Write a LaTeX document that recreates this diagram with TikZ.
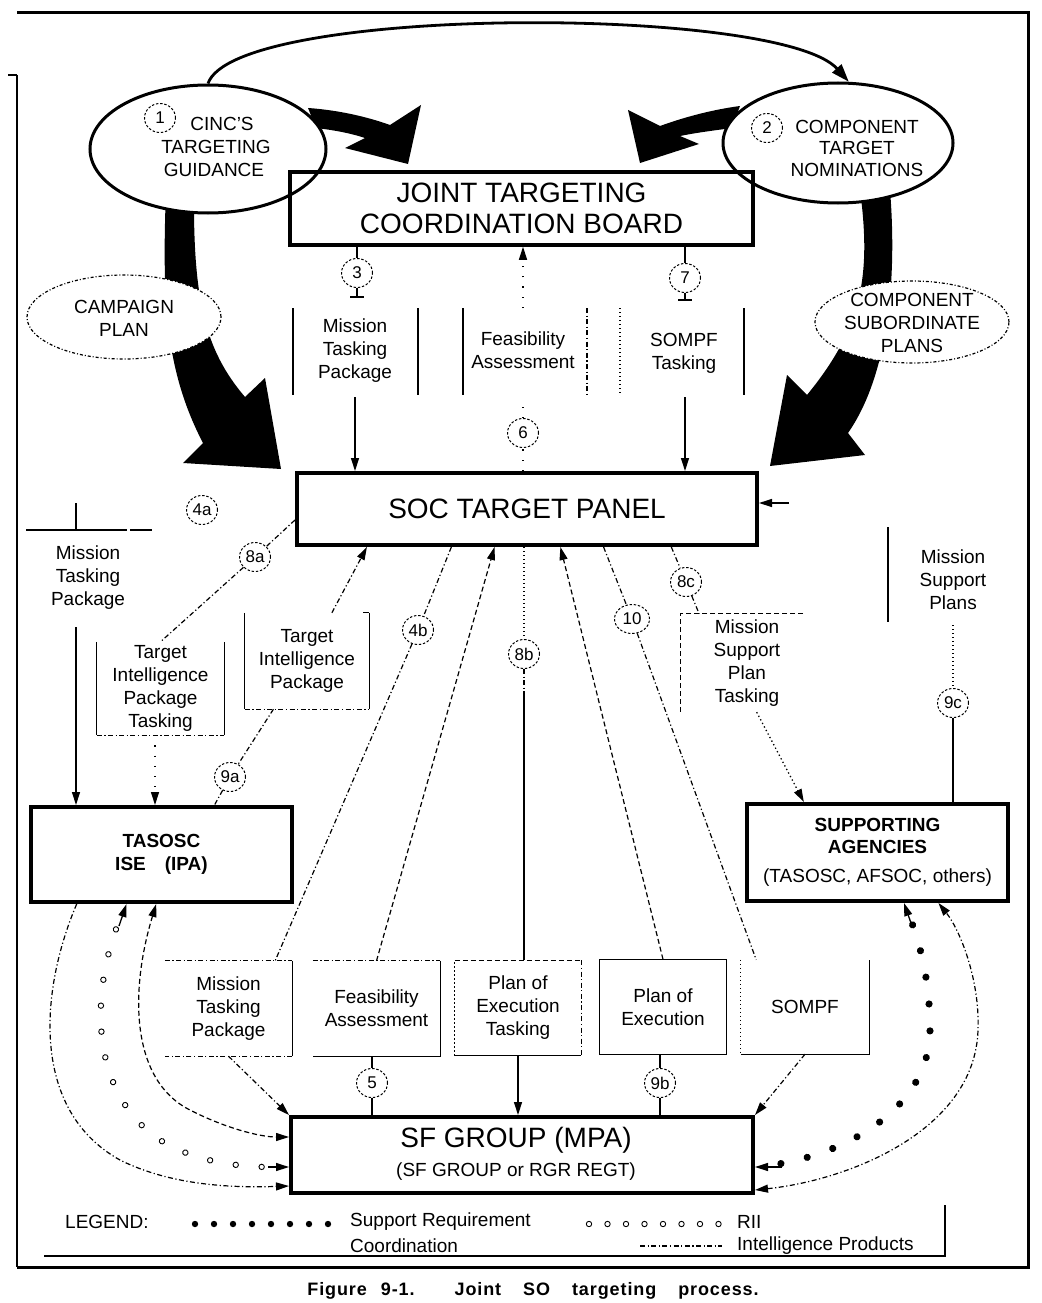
\documentclass[tikz,border=0pt]{standalone}
\usepackage{fontspec}
\setmainfont{Liberation Sans}
\usetikzlibrary{arrows.meta,shapes.geometric,calc,decorations.markings}
\begin{document}
\begin{tikzpicture}[x=1pt,y=-1pt,
  >={Triangle[length=13pt,width=8pt]},
  lbl/.style={font=\fontsize{19}{23}\selectfont, align=center, inner sep=0pt},
  numc/.style={ellipse, draw, dash pattern=on 2.4pt off 1.8pt, line width=1pt, minimum width=31pt, minimum height=29pt, inner sep=0pt, fill=white, font=\fontsize{17}{17}\selectfont},
  bigbox/.style={draw, line width=3.5pt, inner sep=0pt, align=center},
  ln/.style={line width=1.3pt},
  intel/.style={line width=1.2pt, dash pattern=on 5pt off 2.5pt on 1.2pt off 2.5pt},
  dotl/.style={line width=1.3pt, dash pattern=on 1.3pt off 2.7pt},
  dashl/.style={line width=1.2pt, dash pattern=on 5pt off 3pt},
  faint/.style={line width=1.2pt, dash pattern=on 1.2pt off 9pt},
  plainbox/.style={inner sep=0pt, align=center, font=\fontsize{19}{23}\selectfont},
  legtxt/.style={font=\fontsize{19}{19}\selectfont, anchor=west, inner sep=0pt}
]
\useasboundingbox (0,0) rectangle (1041,1303);

% frame
\draw[line width=3pt] (17,13) -- (1028,13) -- (1028,1267) -- (17,1267);
\draw[line width=2.5pt] (17,75) -- (17,1267);
\draw[line width=2pt] (8,75) -- (17,75);

% big black arrows
\fill (308,108) .. controls (338,110) and (368,117) .. (390,125) -- (421,105) -- (408,164) -- (345,148) -- (365,138) .. controls (350,133) and (333,130) .. (316,128) -- cycle;
\fill (740,106) .. controls (710,110) and (682,118) .. (660,126) -- (628,110) -- (640,163) -- (699,144) -- (680,136) .. controls (700,132) and (718,130) .. (732,128) -- cycle;
\fill (166,190) .. controls (162,300) and (165,370) .. (203,443) -- (183,463) -- (281,469) -- (265,378) -- (245,397) .. controls (205,350) and (193,300) .. (194,190) -- cycle;
\fill (860,190) .. controls (872,280) and (860,330) .. (807,395) -- (787,375) -- (770,466) -- (865,455) -- (848,433) .. controls (885,380) and (898,290) .. (890,190) -- cycle;

% ellipses
\node[ellipse, draw, line width=3pt, fill=white, minimum width=236pt, minimum height=128pt] (cinc) at (208,149) {};
\node[ellipse, draw, line width=3pt, fill=white, minimum width=230pt, minimum height=120pt] (comp) at (838,143) {};
\node[ellipse, draw, line width=1.2pt, dash pattern=on 3pt off 2pt on 1pt off 2pt, fill=white, minimum width=194pt, minimum height=84pt] (camp) at (124,317) {};
\node[ellipse, draw, line width=1.2pt, dash pattern=on 3pt off 2pt on 1pt off 2pt, fill=white, minimum width=194pt, minimum height=82pt] (csp) at (912,322) {};
\node[lbl] (campt) at (124,318) {CAMPAIGN\\PLAN};
\node[lbl] (cspt) at (912,323) {COMPONENT\\SUBORDINATE\\PLANS};

\node[numc] (n1) at (160,118) {1};
\node[lbl] (cinct1) at (222,124) {CINC'S};
\node[lbl] (cinct2) at (216,147) {TARGETING};
\node[lbl] (cinct3) at (214,170) {GUIDANCE};
\node[numc] (n2) at (767,128) {2};
\node[lbl] (compt1) at (857,127) {COMPONENT};
\node[lbl] (compt2) at (857,148) {TARGET};
\node[lbl] (compt3) at (857,170) {NOMINATIONS};

\draw[line width=2.8pt, -{Triangle[length=18pt,width=12pt]}] (cinc.north) .. controls (235,5) and (780,5) .. (comp.80);

% main boxes
\node[bigbox, line width=3.5pt, minimum width=463pt, minimum height=73pt, font=\fontsize{28}{31}\selectfont] (jtcb) at (521.5,208.5) {JOINT TARGETING\\COORDINATION BOARD};
\node[bigbox, line width=4pt, minimum width=460pt, minimum height=72pt, font=\fontsize{28}{28}\selectfont] (soc) at (527,509) {SOC TARGET PANEL};
\node[bigbox, line width=4pt, minimum width=261pt, minimum height=95pt, font=\bfseries\fontsize{19}{23}\selectfont] (tasosc) at (161.5,854.5) {TASOSC\\ISE\quad(IPA)};
\node[bigbox, line width=4pt, minimum width=261pt, minimum height=97pt, font=\fontsize{19}{22}\selectfont] (sa) at (877.5,852.5) {\textbf{SUPPORTING}\\\textbf{AGENCIES}\\[7pt](TASOSC, AFSOC, others)};
\node[bigbox, line width=4pt, minimum width=462pt, minimum height=76pt] (sf) at (522,1155) {};
\node[font=\fontsize{28}{28}\selectfont, inner sep=0pt] (sft1) at (516,1140) {SF GROUP (MPA)};
\node[font=\fontsize{19}{19}\selectfont, inner sep=0pt] (sft2) at (516,1172) {(SF GROUP or RGR REGT)};

% upper columns
\draw[ln] (293,308) -- (293,395);
\draw[ln] (418,308) -- (418,395);
\draw[ln] (463,308) -- (463,395);
\draw[intel] (587,308) -- (587,395);
\draw[dotl] (620,308) -- (620,395);
\draw[ln] (744,308) -- (744,395);
\node[lbl] (mtp1) at (355,351) {Mission\\Tasking\\Package};
\node[lbl] (fa1) at (523,350) {Feasibility\\Assessment};
\node[lbl] (st1) at (684,353) {SOMPF\\Tasking};

\node[numc] (n3) at (357,273) {3};
\node[numc] (n7) at (685,278) {7};
\node[numc] (n6) at (523,433) {6};
\draw[ln] (jtcb.south -| n3) -- (n3);
\draw[ln] (n3.south) -- (357,297);
\draw[ln] (350,297) -- (364,297);
\draw[ln,->] (mtp1.south |- 0,397) -- (mtp1.south |- soc.north);
\draw[ln] (jtcb.south -| n7) -- (n7);
\draw[ln] (n7.south) -- (685,300);
\draw[ln] (678,300) -- (692,300);
\draw[ln,->] (n7 |- 0,397) -- (n7 |- soc.north);
\draw[faint] (n6 |- soc.north) -- (n6);
\draw[faint] (n6) -- (n6 |- 0,398);
\draw[faint,->] (n6 |- 0,308) -- (n6 |- jtcb.south);

% left upper
\draw[ln] (26,530) -- (127,530);
\draw[ln] (130,530) -- (152,530);
\draw[ln] (76,503) -- (76,530);
\node[lbl] (mtp2) at (88,578) {Mission\\Tasking\\Package};
\draw[ln,->] (76,627) -- (tasosc.north -| 76,0);

\node[plainbox, minimum width=127pt, minimum height=93pt] (tiptbox) at (160.5,688.5) {Target\\Intelligence\\Package\\Tasking};
\draw[ln] (tiptbox.north west) -- (tiptbox.south west);
\draw[intel] (tiptbox.south west) -- (tiptbox.south east);
\draw[ln] (tiptbox.south east) -- (tiptbox.north east);
\draw[faint,->] (tiptbox.south -| 155,0) -- (tasosc.north -| 155,0);

\node[plainbox, minimum width=124pt, minimum height=96pt] (tipbox) at (307,661) {Target\\Intelligence\\Package};
\draw[ln] (tipbox.north west) -- (tipbox.south west);
\draw[intel] (tipbox.south west) -- (tipbox.south east);
\draw[ln] (tipbox.south east) -- (tipbox.north east);
\draw[ln] (tipbox.north east) -- ++(-6,0);

\node[numc] (n4a) at (202,510) {4a};
\node[numc] (n8a) at (255,557) {8a};
\node[numc] (n9a) at (230,777) {9a};
\draw[intel] ([yshift=-11pt]soc.west) -- (n8a) -- (tiptbox.north);
\draw[intel,->] ($(tipbox.north west)!0.7!(tipbox.north east)$) -- ($(soc.south west)!0.155!(soc.south east)$);
\draw[intel] ($(tipbox.south west)!0.23!(tipbox.south east)$) -- (n9a) -- ($(tasosc.north west)!0.7!(tasosc.north east)$);

% right upper
\node[plainbox, minimum width=122pt, minimum height=98pt] (msptbox) at (742,663) {};
\node[lbl] (mspt) at (747,663) {Mission\\Support\\Plan\\Tasking};
\draw[dashl] (msptbox.north east) -- (msptbox.north west) -- (msptbox.south west);
\node[lbl] (msp) at (953,580) {Mission\\Support\\Plans};
\draw[ln] (888,527) -- (888,622);
\node[numc] (n9c) at (953,703) {9c};
\draw[dotl] (n9c |- 0,625) -- (n9c);
\draw[ln] (n9c) -- (n9c |- sa.north);
\draw[ln,->] ([xshift=30pt,yshift=6pt]soc.east) -- ([yshift=6pt]soc.east);

% lower boxes
\node[plainbox, minimum width=127pt, minimum height=95pt] (b1) at (228.5,1008.5) {Mission\\Tasking\\Package};
\node[plainbox, minimum width=127pt, minimum height=95pt] (b2) at (376.5,1008.5) {Feasibility\\Assessment};
\node[plainbox, minimum width=126pt, minimum height=95pt] (b3) at (518,1008) {Plan of\\Execution\\Tasking};
\node[plainbox, minimum width=126pt, minimum height=95pt] (b4) at (663,1007) {Plan of\\Execution};
\node[plainbox, minimum width=128pt, minimum height=94pt] (b5) at (805,1007) {SOMPF};
\draw[intel] (b1.north west) -- (b1.north east);
\draw[ln] (b1.north east) -- (b1.south east);
\draw[intel] (b1.south east) -- (b1.south west);
\draw[intel] (b2.north west) -- (b2.north east);
\draw[ln] (b2.north east) -- (b2.south east) -- (b2.south west);
\draw[dashl] (b3.north west) -- (b3.north east);
\draw[intel] (b3.north east) -- (b3.south east);
\draw[ln] (b3.south east) -- (b3.south west);
\draw[dotl] (b3.south west) -- (b3.north west);
\draw[ln] (b4.north west) rectangle (b4.south east);
\draw[dotl] (b5.north west) -- (b5.south west);
\draw[ln] (b5.south west) -- (b5.south east) -- (b5.north east);

% SOC to lower
\node[numc] (n4b) at (418,630) {4b};
\node[numc] (n8b) at (524,654) {8b};
\node[numc, minimum width=35pt] (n10) at (632,619) {10};
\node[numc] (n8c) at (686,582) {8c};
\draw[intel] ($(soc.south west)!0.337!(soc.south east)$) -- (n4b) -- ($(b1.north west)!0.866!(b1.north east)$);
\draw[dashl,->] (b2.north) -- ($(soc.south west)!0.43!(soc.south east)$);
\draw[dotl] (n8b |- soc.south) -- (n8b);
\draw[intel] (n8b) -- (524,693);
\draw[ln] (524,693) -- (n8b |- b3.north);
\draw[dashl,->] (b4.north) -- ($(soc.south west)!0.572!(soc.south east)$);
\draw[intel] ($(soc.south west)!0.665!(soc.south east)$) -- (n10) -- ($(b5.north west)!0.12!(b5.north east)$);
\draw[intel] ($(soc.south west)!0.811!(soc.south east)$) -- (n8c) -- ($(msptbox.north west)!0.15!(msptbox.north east)$);
\draw[dotl,->] ($(msptbox.south west)!0.62!(msptbox.south east)$) -- ($(sa.north west)!0.222!(sa.north east)$);

% lower to SF
\node[numc] (n5) at (372,1083) {5};
\node[numc] (n9b) at (660,1083) {9b};
\draw[intel,->] (b1.south) -- (sf.north west);
\draw[ln] (n5 |- b2.south) -- (n5) -- (n5 |- sf.north);
\draw[ln,->] (b3.south) -- (b3.south |- sf.north);
\draw[ln] (n9b |- b4.south) -- (n9b) -- (n9b |- sf.north);
\draw[intel,->] (b5.south) -- (sf.north east);

% left curves
\draw[intel,->] ($(tasosc.south west)!0.18!(tasosc.south east)$) .. controls (40,990) and (30,1110) .. (120,1160) .. controls (170,1185) and (230,1188) .. ([yshift=-31pt]sf.west);
\draw[dashl,<->] ($(tasosc.south west)!0.48!(tasosc.south east)$) .. controls (130,990) and (130,1080) .. (190,1110) .. controls (225,1128) and (260,1137) .. ([yshift=18pt]sf.west);
\path[decoration={markings, mark=between positions 0.07 and 0.95 step 26pt with {\draw[line width=0.9pt,fill=white] (0,0) circle (2.7pt);}}, decorate] ($(tasosc.south west)!0.368!(tasosc.south east)$) .. controls (90,980) and (85,1090) .. (160,1140) .. controls (200,1165) and (250,1168) .. ([yshift=-12pt]sf.west);
\draw[ln,->] (119,926) -- ($(tasosc.south west)!0.368!(tasosc.south east)$);
\draw[ln,->] (268,1167) -- ([yshift=-12pt]sf.west);

% right curves
\path[decoration={markings, mark=between positions 0.07 and 0.95 step 27pt with {\fill (0,0) circle (3.6pt);}}, decorate] ([yshift=-12pt]sf.east) .. controls (840,1160) and (930,1110) .. (930,1030) .. controls (930,980) and (920,940) .. ($(sa.south west)!0.6!(sa.south east)$);
\draw[ln,->] (782,1167) -- ([yshift=-12pt]sf.east);
\draw[ln,->] (912,926) -- ($(sa.south west)!0.6!(sa.south east)$);
\draw[intel,<->] ([yshift=-35pt]sf.east) .. controls (850,1180) and (975,1130) .. (978,1030) .. controls (980,980) and (960,930) .. ($(sa.south west)!0.73!(sa.south east)$);

% legend
\node[legtxt] (legend) at (65,1222) {LEGEND:};
\foreach \i in {0,...,7} \fill (195+\i*19,1224) circle (3.2pt);
\node[legtxt] (lsr) at (350,1222) {Support Requirement};
\node[legtxt] (lco) at (350,1246) {Coordination};
\foreach \i in {0,...,7} \draw[line width=0.9pt] (589+\i*18.5,1224) circle (2.7pt);
\node[legtxt] (lrii) at (737,1222) {RII};
\draw[intel] (640,1246) -- (722,1246);
\node[legtxt] (lip) at (737,1246) {Intelligence Products};
\draw[ln] (945,1205) -- (945,1256) -- (44,1256);

% caption
\node[font={\bfseries\fontsize{18}{18}\selectfont\addfontfeature{LetterSpace=5}}, inner sep=0pt] (cap) at (533,1291) {Figure\hspace{14pt}9-1.\hspace{40pt}Joint\hspace{22pt}SO\hspace{22pt}targeting\hspace{22pt}process.};
\end{tikzpicture}
\end{document}
